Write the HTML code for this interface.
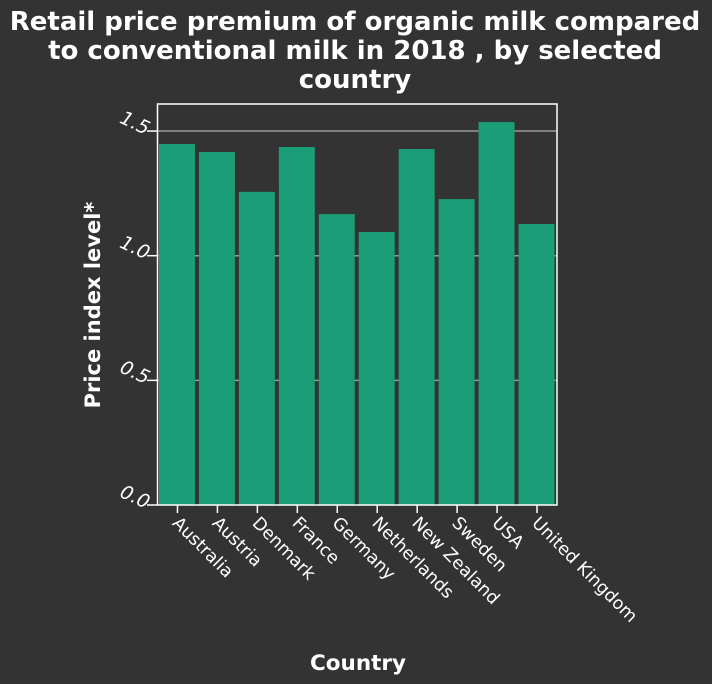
<!DOCTYPE html>
<html><head><meta charset="utf-8"><style>
html,body{margin:0;padding:0;background:#333333;width:712px;height:684px;overflow:hidden}
svg{display:block;font-family:"DejaVu Sans","Liberation Sans",sans-serif}
</style></head><body>
<svg id="chart" width="712" height="684">
<rect width="712" height="684" fill="#333333"/>
<g fill="#fff" font-weight="bold" font-size="26" text-anchor="middle">
<text x="355" y="30">Retail price premium of organic milk compared</text>
<text x="355" y="59">to conventional milk in 2018 , by selected</text>
<text x="355" y="88">country</text>
</g>
<g id="grid"></g><g id="bars"></g><g id="axes"></g>
<text x="358" y="670" fill="#fff" font-weight="bold" font-size="21.5" text-anchor="middle">Country</text>
<text transform="translate(100,305) rotate(-90)" fill="#fff" font-weight="bold" font-size="21" text-anchor="middle">Price index level*</text>
</svg>
<script>
const categories=["Australia","Austria","Denmark","France","Germany","Netherlands","New Zealand","Sweden","USA","United Kingdom"];
const values=[1.448,1.416,1.256,1.436,1.167,1.095,1.428,1.227,1.536,1.127];
const yTicks=[0,0.5,1.0,1.5];
const yTickLabels=["0.0","0.5","1.0","1.5"];
const NS="http://www.w3.org/2000/svg";
const L=157.5,R=557,T=104,B=505;
const y=v=>B-v*249.3;
const band=(R-L)/categories.length;
const x=i=>L+i*band;
function mk(t,a,p){const e=document.createElementNS(NS,t);for(const k in a)e.setAttribute(k,a[k]);p.appendChild(e);return e;}
const grid=document.getElementById('grid'),bars=document.getElementById('bars'),axes=document.getElementById('axes');
yTicks.forEach((v,i)=>{
 if(v>0){const g=mk('line',{x1:L,x2:R,y1:y(v),y2:y(v),stroke:'#999','stroke-width':1.5},grid);
 
 }
 const tk=mk('line',{x1:147,x2:L,y1:y(v),y2:y(v),stroke:'#fff','stroke-width':1.5},axes);
 
 
 const t=mk('text',{transform:`translate(146,${y(v)+4}) rotate(25)`,fill:'#fff','font-size':19,'font-style':'italic','text-anchor':'end'},axes);
 t.textContent=yTickLabels[i];
 
 
});
values.forEach((v,i)=>{
 const r=mk('rect',{x:x(i)+1.5,y:y(v),width:band-4,height:B-y(v),fill:'#1b9e77'},bars);
 
 
 const cx=x(i)+band/2;
 const tk=mk('line',{x1:cx,x2:cx,y1:B,y2:B+8,stroke:'#fff','stroke-width':1.5},axes);
 
 
 const t=mk('text',{transform:`translate(${cx-6},${B+19}) rotate(45)`,fill:'#fff','font-size':17.5},axes);
 t.textContent=categories[i];
 
 
});
const f=mk('rect',{x:L,y:T,width:R-L,height:B-T,fill:'none',stroke:'#fff','stroke-width':1.5},axes);


</script>
</body></html>
